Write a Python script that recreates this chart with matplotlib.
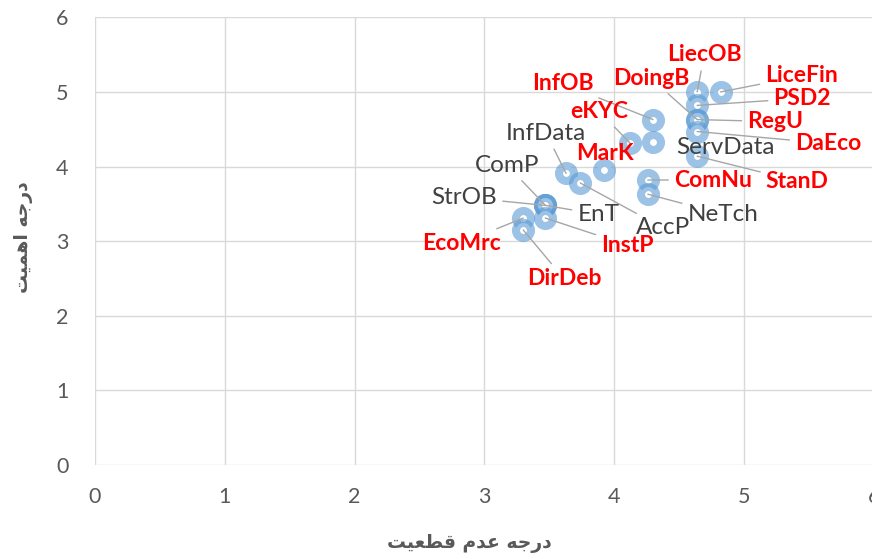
import matplotlib
matplotlib.use("Agg")
import matplotlib.pyplot as plt

# data
names = ["LiecOB", "LiceFin", "PSD2", "RegU", "DoingB", "DaEco", "StanD",
         "InfOB", "ServData", "eKYC", "InfData", "MarK", "AccP", "ComP",
         "StrOB", "EnT", "InstP", "EcoMrc", "DirDeb", "ComNu", "NeTch"]
uncertainty = [4.64, 4.82, 4.64, 4.64, 4.64, 4.64, 4.64,
               4.30, 4.30, 4.12, 3.63, 3.92, 3.74, 3.47,
               3.47, 3.47, 3.47, 3.30, 3.30, 4.26, 4.26]
importance = [5.00, 5.00, 4.82, 4.63, 4.63, 4.47, 4.14,
              4.63, 4.33, 4.32, 3.91, 3.96, 3.78, 3.48,
              3.48, 3.48, 3.31, 3.31, 3.15, 3.82, 3.63]
red_names = ["LiecOB", "LiceFin", "PSD2", "RegU", "DoingB", "DaEco", "StanD",
             "InfOB", "eKYC", "MarK", "ComNu", "InstP", "EcoMrc", "DirDeb"]
ticks = [0, 1, 2, 3, 4, 5, 6]

# Persian axis titles, written in shaped presentation forms (visual order)
xlabel_fa = "\ufe96\ufbff\ufecc\ufec4\ufed7 \ufee1\ufeaa\ufecb \ufeea\ufe9f\ufead\ufea9"
ylabel_fa = "\ufe96\ufbff\ufee4\ufeeb\ufe8d \ufeea\ufe9f\ufead\ufea9"

# label offsets in pixels (dx right, dy up) and whether a leader line is drawn
offsets = {
    "LiecOB": (7, 37, True), "LiceFin": (81, 16, True), "PSD2": (105, 7, True),
    "RegU": (78, -2, True), "DoingB": (-46, 41, True), "DaEco": (131, -12, True),
    "StanD": (100, -25, True), "InfOB": (-90, 36, True), "ServData": (72, -6, False),
    "eKYC": (-30, 31, True), "InfData": (-20, 40, True), "MarK": (1, 16, False),
    "AccP": (83, -45, True), "ComP": (-38, 40, True), "StrOB": (-81, 8, True),
    "EnT": (53, -9, True), "InstP": (82, -27, True), "EcoMrc": (-62, -25, True),
    "DirDeb": (41, -49, True), "ComNu": (65, 0, True), "NeTch": (75, -20, True),
}

fig = plt.figure(figsize=(8.72, 5.59), dpi=100)
ax = fig.add_axes([0.1089, 0.1682, 0.893, 0.8007])

ax.scatter(uncertainty, importance, s=117, facecolors="white",
           edgecolors=(0.357, 0.608, 0.835, 0.6), linewidths=5.8, zorder=3)

for name, x, y in zip(names, uncertainty, importance):
    dx, dy, leader = offsets[name]
    if name in red_names:
        col, weight, fs = "#FF0000", "bold", 16.5
    else:
        col, weight, fs = "#404040", "normal", 17.5
    arrow = None
    if leader:
        arrow = dict(arrowstyle="-", color="#A6A6A6", lw=1.0, shrinkA=2, shrinkB=0)
    ax.annotate(name, (x, y), xytext=(dx * 0.72, dy * 0.72), textcoords="offset points",
                ha="center", va="center", fontsize=fs, fontweight=weight,
                color=col, family="Lato", arrowprops=arrow, zorder=4)

ax.set_xlim(0, 6)
ax.set_ylim(0, 6)
ax.set_xticks(ticks)
ax.set_yticks(ticks)
ax.grid(True, color="#D9D9D9", lw=1.0)
ax.set_axisbelow(True)
for s in ax.spines.values():
    s.set_visible(False)
ax.tick_params(length=0, labelsize=15.5, labelcolor="#595959")
ax.tick_params(axis="y", pad=19)
ax.tick_params(axis="x", pad=16)
for lab in ax.get_xticklabels() + ax.get_yticklabels():
    lab.set_family("Lato")

fig.text(0.538, 0.028, xlabel_fa, ha="center", va="center", fontsize=13.5,
         fontweight="bold", color="#595959", family="DejaVu Sans")
fig.text(0.027, 0.576, ylabel_fa, ha="center", va="center", rotation=90,
         fontsize=13.5, fontweight="bold", color="#595959", family="DejaVu Sans")

fig.savefig("out.png", dpi=100)
